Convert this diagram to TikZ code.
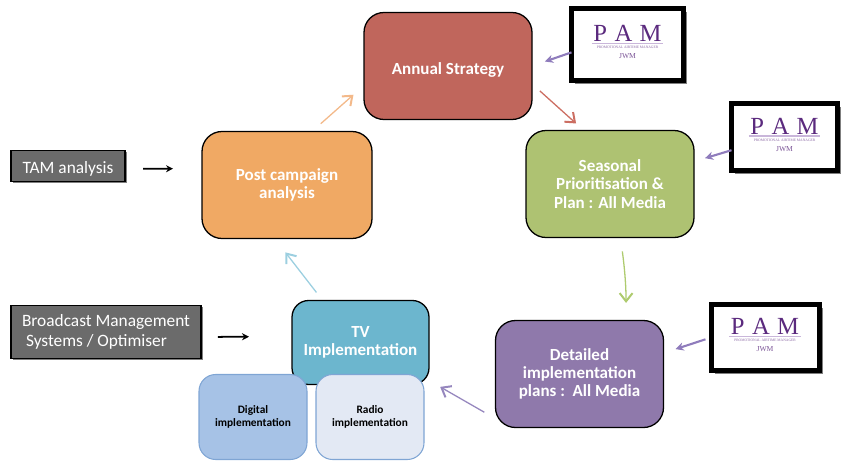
\documentclass[tikz,border=0pt]{standalone}
\usepackage{fontspec}
\setmainfont{Carlito}
\newfontfamily\pamserif{Liberation Serif}
\usepackage{xcolor}
\usepackage{tikz}
\usetikzlibrary{positioning}
\usetikzlibrary{shadows}
\usetikzlibrary{arrows.meta}
\tikzset{>=stealth}
\definecolor{pamPurple}{HTML}{5B2A7E}
\definecolor{pamRule}{HTML}{C9B6DA}
\definecolor{linkPurple}{HTML}{8F7CBC}
\definecolor{mediaEdge}{HTML}{7FA5D4}
\definecolor{digitalFill}{HTML}{A6C2E6}
\definecolor{radioFill}{HTML}{E3E9F4}
\newcommand{\pamlogo}{\lineskiplimit=-100pt\relax
  {\pamserif\color{pamPurple}\fontsize{21}{21}\selectfont P\hspace{0.3em}A\hspace{0.3em}M}\\[-2.8pt]
  {\color{pamRule}\rule{61pt}{1.2pt}}\\[-1.2pt]
  {\pamserif\color{pamPurple!70}\fontsize{3.1}{4}\selectfont PROMOTIONAL AIRTIME MANAGER}\\[3.5pt]
  {\pamserif\color{pamPurple!80}\fontsize{6.5}{7}\selectfont JWM}\rule[-4pt]{0pt}{0pt}}
\begin{document}
\begin{tikzpicture}[
      auto,
      outer sep=0pt,
      stage/.style={draw=black, line width=1.1pt, rounded corners=0.6cm, align=center,
      text=white, font=\fontsize{14.5}{15.5}\selectfont\bfseries,
      execute at begin node={\rule{0pt}{17pt}},
      minimum width=5.04cm, minimum height=3.21cm, inner sep=0pt},
      media/.style={draw=mediaEdge, line width=0.9pt, rounded corners=0.5cm, align=center,
      fill=#1, font=\fontsize{9.7}{11.5}\selectfont\bfseries,
      execute at begin node={\rule{0pt}{12pt}},
      minimum width=3.24cm, minimum height=2.55cm, inner sep=0pt},
      source/.style={draw=black, line width=1.2pt, fill=black!58, text=white, align=left,
      font=\fontsize{14.8}{17.5}\selectfont, execute at begin node={\rule{0pt}{16pt}},
      drop shadow={shadow xshift=1.5pt, shadow yshift=-1.5pt, opacity=0.5, fill=black},
      inner sep=0pt},
      pam/.style={draw=black, line width=0.15cm, fill=white, align=center, inner sep=0pt,
      font=\fontsize{1}{5}\selectfont,
      drop shadow={shadow xshift=3pt, shadow yshift=-3pt, opacity=0.5, fill=black}},
      barb/.style={line width=1.1pt, -{Straight Barb[length=7pt, width=11pt, line width=1.7pt]}},
      link/.style={line width=1.8pt, linkPurple, -{Stealth[length=7pt, width=7pt]}},
      push/.style={line width=1.5pt, black, -{Stealth[length=6pt, width=6pt]}}]
    \useasboundingbox (0,0) rectangle (25.5,-13.86);
    \node [stage, fill={rgb,255:red,192;green,102;blue,92}, execute at begin node={\rule{0pt}{15pt}}] (annual) at (13.44,-1.98) {Annual Strategy};
    \node [stage, fill={rgb,255:red,174;green,194;blue,114}, execute at begin node={\rule{0pt}{15pt}}, below right=0.33cm and -0.18cm of annual] (seasonal) {Seasonal\\Prioritisation \&\\Plan : All Media};
    \node [stage, fill={rgb,255:red,143;green,121;blue,171}, below=2.49cm of seasonal, xshift=-0.915cm] (detailed) {Detailed\\implementation\\plans :\ \ All Media};
    \node [stage, fill={rgb,255:red,240;green,169;blue,100}, minimum width=5.1cm, below left=0.36cm and -0.24cm of annual] (post) {Post campaign\\analysis};
    \node [stage, fill={rgb,255:red,108;green,182;blue,206}, below=1.86cm of post, xshift=2.205cm,
      minimum width=4.11cm, minimum height=2.52cm, rounded corners=0.5cm] (tv) {TV\\Implementation};
    \node [media=digitalFill, below left=-0.3cm and -0.45cm of tv] (digital) {Digital\\implementation};
    \node [media=radioFill, right=0.27cm of digital] (radio) {Radio\\implementation};
    \node [source, minimum width=3.42cm, minimum height=0.93cm, left=2.31cm of post, yshift=0.57cm] (tam) {TAM analysis};
    \node [source, minimum width=5.7cm, minimum height=1.59cm, left=2.73cm of tv, yshift=0.315cm] (bms) {Broadcast Management\\\hspace{0.12cm}Systems / Optimiser};
    \node [pam, minimum width=3.36cm, minimum height=2.16cm, right=1.185cm of annual, yshift=0.645cm] (pam1) {\pamlogo};
    \node [pam, minimum width=3.18cm, minimum height=2.01cm, right=1.125cm of seasonal, yshift=1.41cm] (pam2) {\pamlogo};
    \node [pam, minimum width=3.24cm, minimum height=1.98cm, right=1.425cm of detailed, yshift=1.095cm] (pam3) {\pamlogo};
    %% Cycle
    \draw [barb, color={rgb,255:red,204;green,110;blue,98}, shorten <=9pt, shorten >=9pt] (annual.-12) -- (seasonal.116.6);
    \draw [barb, color={rgb,255:red,174;green,203;blue,110}, shorten <=12pt, shorten >=15pt] (seasonal.-79.5) to [bend left=4] (detailed.49.6);
    \draw [barb, color={rgb,255:red,150;green,135;blue,190}, shorten <=11pt, shorten >=11pt] (detailed.208.8) -- (tv.-29);
    \draw [barb, color={rgb,255:red,156;green,207;blue,224}, shorten <=8.7pt, shorten >=15pt] (tv.132.5) -- (post.-103.7);
    \draw [barb, color={rgb,255:red,243;green,185;blue,138}, shorten <=10pt, shorten >=12pt] (post.65.8) -- (annual.193.9);
    %% Inputs
    \draw [link, shorten >=11.7pt] (pam1.188.3) -- (annual.0);
    \draw [link, shorten >=9.8pt] (pam2.194.2) -- (seasonal.15.3);
    \draw [link, shorten <=5pt, shorten >=10.8pt] (pam3.180) -- (detailed.14.3);
    \draw [push, shorten <=15.4pt, shorten >=24.7pt] (tam.-3.5) -- (post.169.7);
    \draw [push, shorten <=14.5pt, shorten >=36.7pt] (bms.-3.3) -- (tv.175.8);
  \end{tikzpicture}
\end{document}
